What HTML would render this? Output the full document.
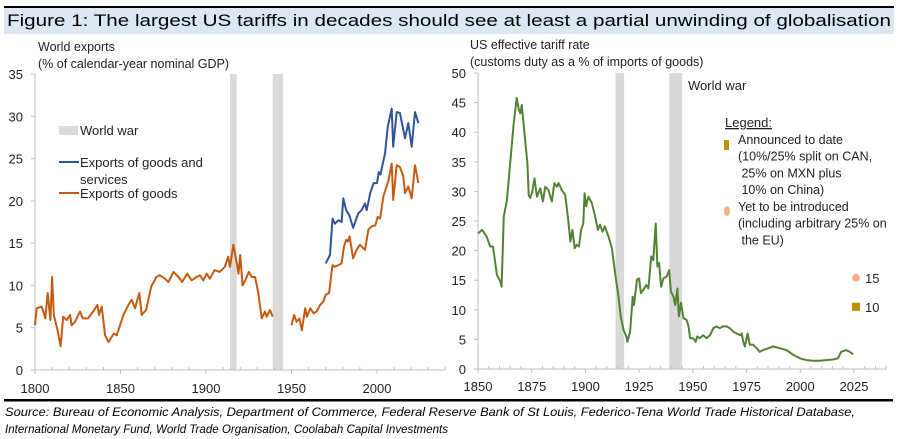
<!DOCTYPE html>
<html><head><meta charset="utf-8"><style>
body{margin:0;background:#fff;}
svg{display:block;font-family:"Liberation Sans",sans-serif;}
</style></head><body>
<svg width="906" height="439" viewBox="0 0 906 439">
<rect x="4" y="6" width="890" height="2" fill="#000"/>
<rect x="4" y="8" width="890" height="26" fill="#dde6f3"/>
<text x="7" y="26" font-size="16.5" fill="#000" textLength="884" lengthAdjust="spacingAndGlyphs">Figure 1:  The largest US tariffs in decades should see at least a partial unwinding of globalisation</text>
<rect x="4" y="399" width="889" height="2.5" fill="#000"/>
<text x="5" y="416" font-size="12" font-style="italic" textLength="850" lengthAdjust="spacingAndGlyphs">Source: Bureau of Economic Analysis,  Department of Commerce, Federal Reserve  Bank of St Louis, Federico-Tena World Trade Historical Database,</text>
<text x="5" y="433" font-size="12" font-style="italic" textLength="443" lengthAdjust="spacingAndGlyphs">International Monetary Fund, World Trade Organisation,  Coolabah Capital Investments</text>

<g id="left"></g>
<g id="right"></g>
</svg>
<script>
// ---- Left chart data ----
const goodsYears1 = [1800,1801,1804,1806,1807.4,1809,1810,1811,1813,1815,1816.5,1818.5,1820.5,1821.4,1823.4,1826.3,1828,1831,1834,1836.5,1837.4,1839,1841,1843,1846,1847.8,1851.7,1854.6,1856.5,1858.5,1861,1862.4,1865,1868,1871,1873,1876,1878,1881,1884,1886,1889,1891.6,1894.5,1896.5,1898.4,1900.4,1902.3,1905,1908,1911,1913,1914,1916,1918,1919,1920,1921.4,1923,1925,1926.7,1928.7,1930.6,1932.6,1934.5,1935.5,1937.4,1939];
const goodsVals1 = [5.3,7.3,7.5,6.1,9.1,5.9,11.0,6.5,4.9,2.8,6.3,5.9,6.5,5.3,5.7,6.9,6.1,6.1,6.9,7.7,6.5,7.5,4.1,3.3,4.3,4.1,6.5,7.7,8.3,7.3,9.1,6.5,7.1,9.9,11.0,11.2,10.8,10.4,11.6,11.0,10.4,11.4,10.6,11.0,11.2,10.6,11.4,10.8,11.8,11.6,12.2,13.4,12.2,14.8,12.6,11.4,13.6,10.0,10.6,11.6,11.0,11.0,9.1,6.1,6.9,6.3,7.1,6.3];
const goodsYears2 = [1950,1951.5,1953,1954.6,1956,1958,1959,1961,1963,1964.7,1966.7,1968.6,1970,1972,1974,1975.4,1977.4,1979.3,1980.7,1982,1983,1984,1986,1988,1990,1993,1995,1997,1999,2000.4,2001.8,2003.7,2005.6,2006.6,2008.6,2009.5,2011.5,2013.4,2015.4,2016.4,2018.3,2020.3,2022.2,2024.2];
const goodsVals2 = [5.3,6.5,5.7,6.1,4.7,7.3,6.3,7.3,6.7,6.9,7.7,8.1,8.9,9.1,12.4,12.2,12.4,12.6,14.6,15.4,15.2,15.8,13.2,14.2,14.8,14.2,16.6,17.0,17.1,18.1,17.9,20.5,21.7,22.3,24.4,20.1,24.2,24.0,22.9,20.9,21.7,20.3,24.2,22.1];
const gsYears = [1970,1972.5,1974,1975.4,1977.4,1979.3,1980.3,1982,1983.8,1986,1989,1991,1993,1994,1996,1998,2000,2001,2002,2004.7,2006.3,2008.6,2009.5,2011.5,2013.4,2015.4,2016.4,2018.3,2020.3,2022.2,2024.2];
const gsVals = [12.6,13.6,17.9,17.3,17.7,17.5,20.3,18.9,18.3,16.8,18.5,18.9,19.7,18.9,20.9,22.1,22.1,23.4,23.1,25.6,28.8,30.9,26.4,30.5,30.4,28.4,27.4,29.2,26.4,30.5,29.2];
const leftYTicks = [0,5,10,15,20,25,30,35];
const leftXTicks = [1800,1850,1900,1950,2000];
const leftWars = [[1914,1918],[1939,1945]];

// ---- Right chart data ----
const tariffYears = [1850,1851.9,1854,1855.7,1857,1858.8,1860.4,1861,1862,1863.5,1865,1866.6,1868,1869,1869.7,1870.4,1871.2,1873,1873.6,1874.3,1875.2,1876.3,1877.4,1879,1880.2,1881.3,1882.8,1884.4,1885.5,1886.7,1887.5,1889,1890.6,1892,1893,1894,1895,1896,1897,1898,1899,1899.6,1900.3,1901.4,1903,1904.5,1905.8,1906.8,1908,1909,1910.7,1912.3,1913.8,1915.4,1916.4,1917.7,1919,1919.5,1920.8,1922,1922.6,1924,1925,1925.8,1927,1928.3,1929.3,1930.6,1931.6,1932.7,1933.5,1934.3,1935.2,1936.3,1937.8,1939,1939.8,1941,1941.8,1942.8,1943.5,1944.5,1945.6,1947.1,1948,1948.7,1950.2,1951.3,1952,1953.3,1954.8,1956.4,1958,1959.5,1961,1962.6,1964,1965.7,1967.2,1968.8,1970.4,1972,1972.7,1973.5,1974.2,1975.5,1976.5,1978,1979.7,1981,1982.7,1985,1987.4,1990.5,1993.6,1996.7,1999.8,2002.9,2006,2009,2012,2015.2,2017.5,2019,2021.4,2023,2024.6];
const tariffVals = [22.9,23.5,22.4,20.7,20.7,15.9,14.8,13.9,25.8,28.6,34.8,41.5,45.8,43.8,43.2,44.6,41.5,34.8,29.4,28.9,29.8,32.2,29.1,30.5,28.3,30.8,30.2,28.3,31.4,30.8,31.4,30.2,29.4,25.2,21.5,23.5,20.4,21.0,20.7,23.5,24.6,29.7,27.5,29.1,28.0,25.8,23.5,24.4,23.2,24.1,22.4,20.4,16.2,12.2,8.9,6.6,5.5,4.6,6.3,12.2,10.8,15.1,15.3,12.8,13.4,14.2,13.6,19.0,18.4,24.6,17.3,17.9,13.9,15.3,15.6,16.7,13.1,12.2,10.8,13.6,8.9,11.2,8.6,8.3,7.2,5.2,5.2,4.6,5.5,5.2,5.7,5.2,5.7,6.9,7.2,6.9,7.2,7.2,6.9,6.3,6.0,5.7,6.0,4.6,3.8,6.0,4.1,4.1,3.5,2.9,3.2,3.5,3.8,3.5,3.2,2.4,1.8,1.5,1.4,1.4,1.5,1.6,1.8,2.9,3.2,2.9,2.5];
const announcedVal = [10.5];
const yetVal = [15.4];
const pointYear = [2025];
const rightYTicks = [0,5,10,15,20,25,30,35,40,45,50];
const rightXTicks = [1850,1875,1900,1925,1950,1975,2000,2025];
const rightWars = [[1914,1918],[1939,1945]];

const NS = "http://www.w3.org/2000/svg";
function mk(parent, tag, attrs, text){
  const e = document.createElementNS(NS, tag);
  for (const k in attrs) e.setAttribute(k, attrs[k]);
  if (text !== undefined) e.textContent = text;
  parent.appendChild(e);
  return e;
}

// ---------- LEFT ----------
(function(){
  const g = document.getElementById('left');
  const x = y => 35 + (y - 1800) * (342 / 200);
  const y = v => 370 - v * (296 / 35);
  for (const w of leftWars) {
    const r = mk(g, 'rect', {x: x(w[0]), y: y(35), width: x(w[1]) - x(w[0]), height: y(0) - y(35), fill: '#d9d9d9'});
    
    
  }
  const ax = mk(g, 'line', {x1: 35, y1: y(35), x2: 35, y2: 370, stroke: '#bfbfbf'});
  
  
  const bx = mk(g, 'line', {x1: 35, y1: 370, x2: 445, y2: 370, stroke: '#bfbfbf'});
  
  
  for (let yr = 1800; yr <= 2040; yr += 10) {
    const t = mk(g, 'line', {x1: x(yr), y1: 370, x2: x(yr), y2: yr % 50 === 0 ? 374 : 367, stroke: '#bfbfbf'});
    
    
  }
  for (const v of leftYTicks) {
    const t = mk(g, 'line', {x1: 31, y1: y(v), x2: 35, y2: y(v), stroke: '#bfbfbf'});
    
    
    const l = mk(g, 'text', {x: 23, y: y(v) + 5, 'font-size': 13, 'text-anchor': 'end', fill: '#222'}, v);
    
    
  }
  for (const v of leftXTicks) {
    const l = mk(g, 'text', {x: x(v), y: 393, 'font-size': 13, 'text-anchor': 'middle', fill: '#222'}, v);
    
    
  }
  const t1 = mk(g, 'text', {x: 38, y: 51, 'font-size': 12.5, fill: '#222'}, 'World exports');
  
  
  const t2 = mk(g, 'text', {x: 38, y: 68, 'font-size': 12.5, fill: '#222'}, '(% of calendar-year nominal GDP)');
  
  
  const path = (xs, vs) => xs.map((a, i) => (i ? 'L' : 'M') + x(a).toFixed(1) + ',' + y(vs[i]).toFixed(1)).join('');
  const p1 = mk(g, 'path', {d: path(goodsYears1, goodsVals1), fill: 'none', stroke: '#c55a11', 'stroke-width': 2, 'stroke-linejoin': 'round'});
  
  
  const p2 = mk(g, 'path', {d: path(goodsYears2, goodsVals2), fill: 'none', stroke: '#c55a11', 'stroke-width': 2, 'stroke-linejoin': 'round'});
  
  
  const p3 = mk(g, 'path', {d: path(gsYears, gsVals), fill: 'none', stroke: '#2f5597', 'stroke-width': 2, 'stroke-linejoin': 'round'});
  
  
  const lw = mk(g, 'rect', {x: 59, y: 126, width: 19, height: 9, fill: '#d9d9d9'});
  
  
  const lwt = mk(g, 'text', {x: 80, y: 135, 'font-size': 13, fill: '#222'}, 'World war');
  
  
  const lb = mk(g, 'line', {x1: 59, y1: 162, x2: 79, y2: 162, stroke: '#2f5597', 'stroke-width': 2});
  
  
  const lbt = mk(g, 'text', {x: 80, y: 167, 'font-size': 13, fill: '#222'}, 'Exports of goods and');
  
  
  const lbt2 = mk(g, 'text', {x: 80, y: 184, 'font-size': 13, fill: '#222'}, 'services');
  
  
  const lo = mk(g, 'line', {x1: 59, y1: 193, x2: 79, y2: 193, stroke: '#c55a11', 'stroke-width': 2});
  
  
  const lot = mk(g, 'text', {x: 80, y: 198, 'font-size': 13, fill: '#222'}, 'Exports of goods');
  
  
})();

// ---------- RIGHT ----------
(function(){
  const g = document.getElementById('right');
  const x = yr => 478 + (yr - 1850) * (376 / 175);
  const y = v => 369 - v * (296 / 50);
  for (const w of rightWars) {
    const r = mk(g, 'rect', {x: x(w[0]), y: y(50), width: x(w[1]) - x(w[0]), height: y(0) - y(50), fill: '#d9d9d9'});
    
    
  }
  const ax = mk(g, 'line', {x1: 478, y1: y(50), x2: 478, y2: 369, stroke: '#bfbfbf'});
  
  
  const bx = mk(g, 'line', {x1: 478, y1: 369, x2: 887, y2: 369, stroke: '#bfbfbf'});
  
  
  for (let yr = 1850; yr <= 2040; yr += 5) {
    const t = mk(g, 'line', {x1: x(yr), y1: 369, x2: x(yr), y2: yr % 25 === 0 ? 373 : 366, stroke: '#bfbfbf'});
    
    
  }
  for (const v of rightYTicks) {
    const t = mk(g, 'line', {x1: 474, y1: y(v), x2: 478, y2: y(v), stroke: '#bfbfbf'});
    
    
    const l = mk(g, 'text', {x: 466, y: y(v) + 5, 'font-size': 13, 'text-anchor': 'end', fill: '#222'}, v);
    
    
  }
  for (const v of rightXTicks) {
    const l = mk(g, 'text', {x: x(v), y: 391, 'font-size': 13, 'text-anchor': 'middle', fill: '#222'}, v);
    
    
  }
  const t1 = mk(g, 'text', {x: 470, y: 49, 'font-size': 12.5, fill: '#222'}, 'US effective tariff rate');
  
  
  const t2 = mk(g, 'text', {x: 470, y: 66, 'font-size': 12.5, fill: '#222'}, '(customs duty as a % of imports of goods)');
  
  
  const ww = mk(g, 'text', {x: 688, y: 90, 'font-size': 13, fill: '#222'}, 'World war');
  
  
  const d = tariffYears.map((a, i) => (i ? 'L' : 'M') + x(a).toFixed(1) + ',' + y(tariffVals[i]).toFixed(1)).join('');
  const p = mk(g, 'path', {d: d, fill: 'none', stroke: '#548235', 'stroke-width': 2, 'stroke-linejoin': 'round'});
  
  
  const c = mk(g, 'circle', {cx: x(pointYear[0]) + 2, cy: y(yetVal[0]), r: 4, fill: '#f4b183'});
  
  
  const ct = mk(g, 'text', {x: x(pointYear[0]) + 11, y: y(yetVal[0]) + 5, 'font-size': 13, fill: '#222'}, '15');
  
  
  const s = mk(g, 'rect', {x: x(pointYear[0]) - 2, y: y(announcedVal[0]) - 4, width: 8, height: 8, fill: '#bf9000'});
  
  
  const st = mk(g, 'text', {x: x(pointYear[0]) + 11, y: y(announcedVal[0]) + 5, 'font-size': 13, fill: '#222'}, '10');
  
  
  const lt = mk(g, 'text', {x: 725, y: 127, 'font-size': 13, fill: '#222', 'text-decoration': 'underline'}, 'Legend:');
  
  
  const ls = mk(g, 'rect', {x: 724, y: 140, width: 5, height: 10, fill: '#bf9000'});
  
  
  const lines1 = ['Announced to date', '(10%/25% split on CAN,', ' 25% on MXN plus', ' 10% on China)'];
  lines1.forEach((tx, i) => {
    const e = mk(g, 'text', {x: 738, y: 144 + i * 16.7, 'font-size': 12.5, fill: '#222'}, tx.replace(/^ /, '\u00a0'));
    
    
  });
  const lc = mk(g, 'ellipse', {cx: 727, cy: 211, rx: 3, ry: 5, fill: '#f4b183'});
  
  
  const lines2 = ['Yet to be introduced', '(including arbitrary 25% on', ' the EU)'];
  lines2.forEach((tx, i) => {
    const e = mk(g, 'text', {x: 738, y: 211 + i * 16.7, 'font-size': 12.5, fill: '#222'}, tx.replace(/^ /, '\u00a0'));
    
    
  });
})();
</script>
</body></html>
